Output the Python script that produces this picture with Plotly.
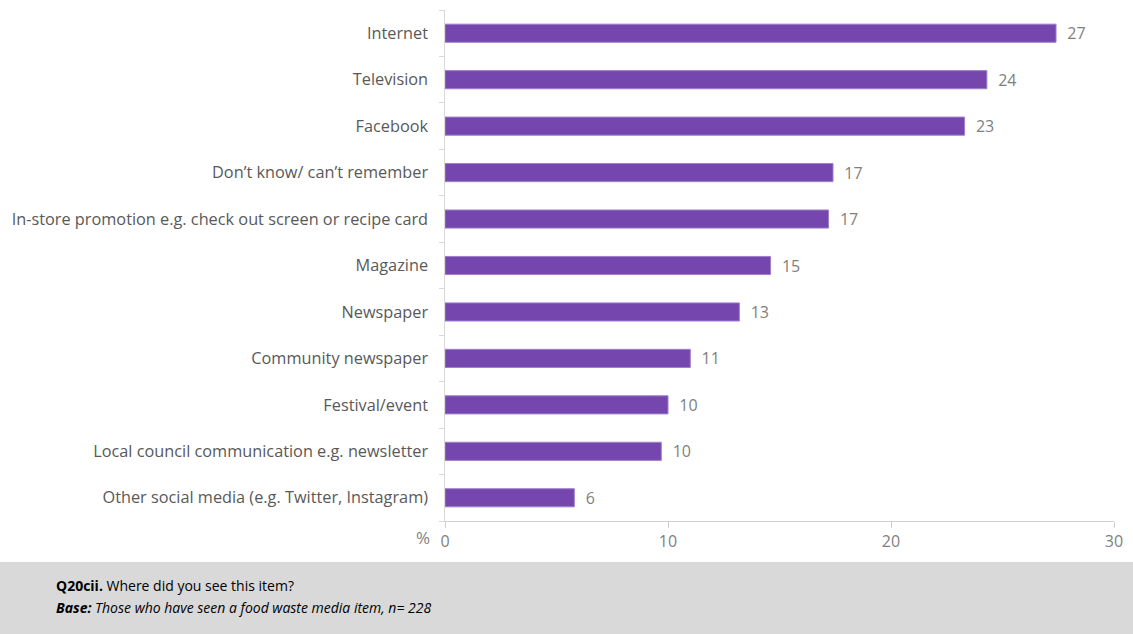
import plotly.graph_objects as go

categories = [
    "Internet",
    "Television",
    "Facebook",
    "Don\u2019t know/ can\u2019t remember",
    "In-store promotion e.g. check out screen or recipe card",
    "Magazine",
    "Newspaper",
    "Community newspaper",
    "Festival/event",
    "Local council communication e.g. newsletter",
    "Other social media (e.g. Twitter, Instagram)",
]
values = [27.4, 24.3, 23.3, 17.4, 17.2, 14.6, 13.2, 11.0, 10.0, 9.7, 5.8]
value_labels = ["27", "24", "23", "17", "17", "15", "13", "11", "10", "10", "6"]
x_ticks = [0, 10, 20, 30]

question = "<b>Q20cii.</b> Where did you see this item?"
base = "<b><i>Base:</i></b><i> Those who have seen a food waste media item, n= 228</i>"

fig = go.Figure()
fig.add_trace(
    go.Bar(
        x=values,
        y=categories,
        orientation="h",
        width=0.39,
        marker={"color": "#7646AF", "line": {"color": "#9F7FCB", "width": 1}},
        text=["  " + t for t in value_labels],
        textposition="outside",
        constraintext="none",
        cliponaxis=False,
        textfont={"family": "Open Sans", "size": 16, "color": "#7F7F7F"},
        hoverinfo="x+y",
    )
)

# grey footer band with question text
fig.add_shape(
    type="rect", xref="paper", yref="paper",
    x0=-0.7, x1=1.1, y0=-0.0802, y1=-0.25,
    fillcolor="#D9D9D9", line={"width": 0}, layer="below",
)
for i, line in enumerate([question, base]):
    fig.add_annotation(
        text=line, xref="paper", yref="paper",
        x=-0.584, y=-0.104 - i * 0.043, xanchor="left", yanchor="top",
        align="left", showarrow=False,
        font={"family": "Open Sans", "size": 14, "color": "#000000"},
    )
fig.add_annotation(
    text="%", xref="paper", yref="paper", x=-0.02, y=-0.005,
    xanchor="right", yanchor="top", showarrow=False,
    font={"family": "Open Sans", "size": 17, "color": "#7F7F7F"},
)

fig.update_layout(
    width=1133,
    height=634,
    margin={"l": 445, "r": 16, "t": 10, "b": 113},
    plot_bgcolor="white",
    paper_bgcolor="white",
    showlegend=False,
    bargap=0.6,
    xaxis={
        "range": [0, 30],
        "tickvals": x_ticks,
        "showgrid": False,
        "zeroline": False,
        "showline": True,
        "linecolor": "#D0D0D0",
        "ticks": "outside",
        "tickcolor": "#D0D0D0",
        "ticklen": 6,
        "tickfont": {"family": "Open Sans", "size": 16, "color": "#7F7F7F"},
    },
    yaxis={
        "categoryorder": "array",
        "categoryarray": categories[::-1],
        "showgrid": False,
        "showline": True,
        "linecolor": "#D9D9D9",
        "ticks": "outside",
        "tickson": "boundaries",
        "tickcolor": "#D9D9D9",
        "ticklen": 5,
        "ticksuffix": "   ",
        "tickfont": {"family": "Open Sans", "size": 16.3, "color": "#595959"},
    },
)

fig.write_html(
    "out.html",
    config={"displayModeBar": False},
    post_script="document.body.style.margin='0';",
)
